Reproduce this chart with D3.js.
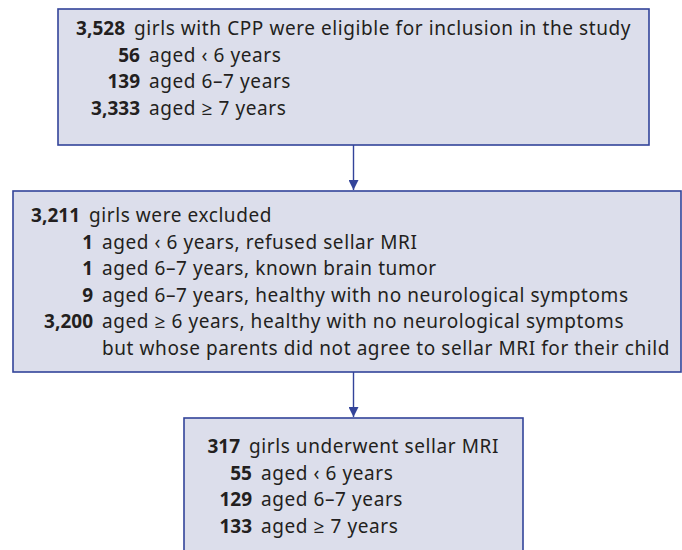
<!DOCTYPE html>
<html>
<head>
<meta charset="utf-8">
<script src="https://cdn.jsdelivr.net/npm/d3@7"></script>
<style>
    body { margin: 0; background: #fff; }
    svg text { font-family: 'Noto Sans', 'Open Sans', sans-serif; fill: #231f20; }
</style>
</head>
<body>
<div id="chart"></div>
<script>
// box 1 - eligible
const eligibleTotal = 3528;
const eligibleTitle = 'girls with CPP were eligible for inclusion in the study';
const eligibleCounts = [56, 139, 3333];
const eligibleLabels = ['aged \u2039 6 years', 'aged 6\u20137 years', 'aged \u2265 7 years'];

// box 2 - excluded
const excludedTotal = 3211;
const excludedTitle = 'girls were excluded';
const excludedCounts = [1, 1, 9, 3200];
const excludedLabels = [
    ['aged \u2039 6 years, refused sellar MRI'],
    ['aged 6\u20137 years, known brain tumor'],
    ['aged 6\u20137 years, healthy with no neurological symptoms'],
    ['aged \u2265 6 years, healthy with no neurological symptoms',
     'but whose parents did not agree to sellar MRI for their child'],
];

// box 3 - underwent MRI
const mriTotal = 317;
const mriTitle = 'girls underwent sellar MRI';
const mriCounts = [55, 129, 133];
const mriLabels = ['aged \u2039 6 years', 'aged 6\u20137 years', 'aged \u2265 7 years'];

const W = 682, H = 550;
const fmt = d3.format(',');
const blue = '#33449a';
const fill = '#dcdeeb';
const lh = 26.6;
const fs = 19;

const svg = d3.select('#chart').append('svg')
    .attr('width', W)
    .attr('height', H);

// the figure's font runs a bit wider, pad with letter spacing (~497px for the long title)
const probe = svg.append('text').attr('font-size', fs).text(eligibleTitle);
const ls = Math.max(0, (497 - probe.node().getComputedTextLength()) / eligibleTitle.length);
probe.remove();

svg.append('defs').append('marker')
    .attr('id', 'arr')
    .attr('viewBox', '0 0 10 10')
    .attr('refX', 10).attr('refY', 5)
    .attr('markerWidth', 10).attr('markerHeight', 10)
    .attr('markerUnits', 'userSpaceOnUse')
    .attr('orient', 'auto')
    .append('path')
    .attr('d', 'M0,0 L10,5 L0,10 Z')
    .attr('fill', blue);

// draw one box with title line and indented rows
function drawBox(box) {
    const g = svg.append('g');
    g.append('rect')
        .attr('x', box.x).attr('y', box.y)
        .attr('width', box.w).attr('height', box.h)
        .attr('fill', fill)
        .attr('stroke', blue)
        .attr('stroke-width', 1.6);

    // header
    g.append('text')
        .attr('x', box.headNum).attr('y', box.base)
        .attr('text-anchor', 'end')
        .attr('font-size', fs).attr('font-weight', 'bold')
        .text(fmt(box.total));
    g.append('text')
        .attr('x', box.headNum + box.gap).attr('y', box.base)
        .attr('font-size', fs)
        .attr('letter-spacing', ls)
        .text(box.title);

    let line = 1;
    box.counts.forEach((c, i) => {
        const y = box.base + line * lh;
        g.append('text')
            .attr('x', box.subNum).attr('y', y)
            .attr('text-anchor', 'end')
            .attr('font-size', fs).attr('font-weight', 'bold')
            .text(fmt(c));
        const lbl = [].concat(box.labels[i]);
        lbl.forEach((t, k) => {
            g.append('text')
                .attr('x', box.subNum + box.gap).attr('y', y + k * lh)
                .attr('font-size', fs)
                .attr('letter-spacing', ls)
                .text(t);
        });
        line += lbl.length;
    });
}

drawBox({
    x: 58, y: 9, w: 591, h: 136, base: 35,
    headNum: 125, subNum: 140, gap: 9,
    total: eligibleTotal, title: eligibleTitle,
    counts: eligibleCounts, labels: eligibleLabels
});

drawBox({
    x: 13, y: 191, w: 668, h: 181, base: 222,
    headNum: 80, subNum: 93, gap: 9,
    total: excludedTotal, title: excludedTitle,
    counts: excludedCounts, labels: excludedLabels
});

drawBox({
    x: 184, y: 418, w: 339, h: 150, base: 453,
    headNum: 240, subNum: 252, gap: 9,
    total: mriTotal, title: mriTitle,
    counts: mriCounts, labels: mriLabels
});

// arrows
[[145, 191], [372, 418]].forEach(a => {
    svg.append('line')
        .attr('x1', 353.5).attr('x2', 353.5)
        .attr('y1', a[0]).attr('y2', a[1] - 1)
        .attr('stroke', blue)
        .attr('stroke-width', 1.4)
        .attr('marker-end', 'url(#arr)');
});
</script>
</body>
</html>
